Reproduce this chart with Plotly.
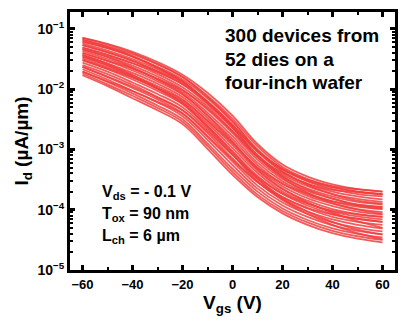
import plotly.graph_objects as go

# Gate voltage sample points (V)
vgs = [-60, -50, -40, -30, -20, -10, 0, 10, 20, 30, 40, 50, 60]

# log10 of drain current (uA/um), one list per device curve
log10_id_curves = [
    [-1.15, -1.25, -1.38, -1.55, -1.76, -2.06, -2.44, -2.91, -3.25, -3.45, -3.58, -3.66, -3.70],
    [-1.18, -1.29, -1.42, -1.59, -1.80, -2.11, -2.49, -2.95, -3.29, -3.49, -3.62, -3.70, -3.74],
    [-1.21, -1.32, -1.46, -1.63, -1.84, -2.15, -2.54, -3.00, -3.33, -3.53, -3.66, -3.74, -3.78],
    [-1.24, -1.36, -1.50, -1.67, -1.88, -2.20, -2.59, -3.04, -3.37, -3.57, -3.70, -3.78, -3.83],
    [-1.27, -1.39, -1.53, -1.71, -1.92, -2.25, -2.64, -3.09, -3.41, -3.61, -3.74, -3.82, -3.87],
    [-1.31, -1.43, -1.57, -1.75, -1.97, -2.29, -2.69, -3.13, -3.45, -3.65, -3.78, -3.87, -3.91],
    [-1.34, -1.46, -1.61, -1.79, -2.01, -2.34, -2.73, -3.17, -3.49, -3.69, -3.82, -3.91, -3.95],
    [-1.37, -1.50, -1.65, -1.83, -2.05, -2.39, -2.78, -3.22, -3.53, -3.73, -3.86, -3.95, -3.99],
    [-1.40, -1.53, -1.69, -1.87, -2.09, -2.43, -2.83, -3.26, -3.57, -3.77, -3.90, -3.99, -4.04],
    [-1.43, -1.57, -1.73, -1.91, -2.13, -2.48, -2.88, -3.31, -3.61, -3.81, -3.94, -4.03, -4.08],
    [-1.46, -1.60, -1.77, -1.95, -2.17, -2.53, -2.93, -3.35, -3.66, -3.85, -3.99, -4.07, -4.12],
    [-1.49, -1.64, -1.80, -1.99, -2.21, -2.57, -2.98, -3.39, -3.70, -3.89, -4.03, -4.11, -4.16],
    [-1.52, -1.67, -1.84, -2.03, -2.25, -2.62, -3.03, -3.44, -3.74, -3.93, -4.07, -4.15, -4.20],
    [-1.56, -1.71, -1.89, -2.08, -2.30, -2.67, -3.09, -3.49, -3.79, -3.98, -4.12, -4.20, -4.25],
    [-1.60, -1.75, -1.93, -2.13, -2.35, -2.73, -3.15, -3.54, -3.83, -4.03, -4.16, -4.25, -4.31],
    [-1.63, -1.80, -1.98, -2.17, -2.40, -2.79, -3.20, -3.60, -3.88, -4.07, -4.21, -4.30, -4.36],
    [-1.67, -1.84, -2.03, -2.22, -2.45, -2.84, -3.26, -3.65, -3.93, -4.12, -4.26, -4.35, -4.41],
    [-1.71, -1.88, -2.07, -2.27, -2.50, -2.90, -3.32, -3.70, -3.98, -4.17, -4.31, -4.40, -4.46],
    [-1.74, -1.92, -2.11, -2.31, -2.54, -2.94, -3.37, -3.75, -4.02, -4.21, -4.35, -4.44, -4.50],
    [-1.77, -1.95, -2.15, -2.35, -2.58, -2.99, -3.42, -3.79, -4.06, -4.25, -4.39, -4.48, -4.54],
    [-1.21, -1.32, -1.46, -1.65, -1.87, -2.22, -2.63, -3.10, -3.44, -3.67, -3.81, -3.93, -3.98],
    [-1.40, -1.53, -1.66, -1.83, -2.02, -2.32, -2.70, -3.12, -3.39, -3.57, -3.67, -3.71, -3.75],
    [-1.15, -1.26, -1.40, -1.58, -1.80, -2.13, -2.53, -3.02, -3.36, -3.59, -3.74, -3.85, -3.90],
    [-1.52, -1.66, -1.81, -1.98, -2.18, -2.52, -2.90, -3.30, -3.57, -3.74, -3.86, -3.92, -3.96],
    [-1.34, -1.47, -1.64, -1.84, -2.08, -2.44, -2.87, -3.33, -3.65, -3.88, -4.05, -4.19, -4.30],
    [-1.63, -1.79, -1.96, -2.14, -2.35, -2.70, -3.09, -3.46, -3.73, -3.90, -4.02, -4.08, -4.12],
    [-1.46, -1.61, -1.79, -2.00, -2.24, -2.64, -3.08, -3.53, -3.84, -4.07, -4.25, -4.39, -4.49],
    [-1.27, -1.39, -1.53, -1.70, -1.89, -2.21, -2.60, -3.03, -3.33, -3.52, -3.63, -3.70, -3.74],
    [-1.18, -1.30, -1.45, -1.64, -1.87, -2.23, -2.64, -3.12, -3.47, -3.72, -3.89, -4.00, -4.07],
    [-1.31, -1.43, -1.57, -1.72, -1.92, -2.22, -2.60, -3.02, -3.32, -3.50, -3.61, -3.66, -3.70],
    [-1.43, -1.58, -1.76, -1.98, -2.22, -2.61, -3.04, -3.48, -3.81, -4.03, -4.20, -4.33, -4.41],
    [-1.71, -1.87, -2.03, -2.21, -2.41, -2.78, -3.17, -3.54, -3.79, -3.97, -4.08, -4.15, -4.20],
]

y_tick_vals = [1e-5, 1e-4, 1e-3, 1e-2, 1e-1]
y_tick_text = ["10<sup>\u22125</sup>", "10<sup>\u22124</sup>", "10<sup>\u22123</sup>",
               "10<sup>\u22122</sup>", "10<sup>\u22121</sup>"]
y_minor_vals = [m * d for d in [1e-5, 1e-4, 1e-3, 1e-2] for m in range(2, 10)] + [0.2, 0.3, 0.4]
x_tick_vals = [-60, -40, -20, 0, 20, 40, 60]
x_tick_text = ["\u221260", "\u221240", "\u221220", "0", "20", "40", "60"]

FONT = "Liberation Sans, Arial, sans-serif"
RED = "rgba(240,62,62,0.85)"

fig = go.Figure()
for logs in log10_id_curves:
    fig.add_trace(go.Scatter(
        x=vgs, y=[10 ** v for v in logs], mode="lines",
        line=dict(color=RED, width=1.8, shape="spline", smoothing=1.1),
        showlegend=False, hoverinfo="skip"))

axis_common = dict(
    showline=True, linewidth=3, linecolor="black", mirror="allticks",
    ticks="inside", ticklen=5, tickwidth=2.5, tickcolor="black",
    showgrid=False, zeroline=False,
)

fig.update_xaxes(
    range=[-65, 65], tickvals=x_tick_vals, ticktext=x_tick_text,
    tickfont=dict(family=FONT, size=13, color="black", weight="bold"),
    minor=dict(ticks="inside", ticklen=3, tickwidth=2, tickcolor="black", dtick=10, tick0=0),
    title=dict(text="V<sub>gs</sub> (V)", font=dict(family=FONT, size=19, color="black", weight="bold"), standoff=6),
    **axis_common)
fig.update_yaxes(
    type="log", range=[-5, -0.72], tickvals=y_tick_vals, ticktext=y_tick_text,
    tickfont=dict(family=FONT, size=14, color="black", weight="bold"),
    minor=dict(ticks="inside", ticklen=3, tickwidth=1.5, tickcolor="black",
               tickmode="array", tickvals=y_minor_vals),
    title=dict(text="I<sub>d</sub> (\u00b5A/\u00b5m)", font=dict(family=FONT, size=19, color="black", weight="bold"), standoff=4),
    **axis_common)

top_lines = ["300 devices from", "52 dies on a", "four-inch wafer"]
top_y = [33, 57, 80]
for txt, yp in zip(top_lines, top_y):
    fig.add_annotation(text=txt, xref="paper", yref="paper",
                       x=(223 - 70) / 325, y=(270 - yp) / 261, xanchor="left", yanchor="middle",
                       showarrow=False, font=dict(family=FONT, size=19, color="black", weight="bold"))

bl_lines = ["V<sub>ds</sub> = - 0.1 V", "T<sub>ox</sub> = 90 nm", "L<sub>ch</sub> = 6 \u00b5m"]
bl_y = [192, 214, 236]
for txt, yp in zip(bl_lines, bl_y):
    fig.add_annotation(text=txt, xref="paper", yref="paper",
                       x=(100 - 70) / 325, y=(270 - yp) / 261, xanchor="left", yanchor="middle",
                       showarrow=False, font=dict(family=FONT, size=16, color="black", weight="bold"))

fig.update_layout(
    width=409, height=321,
    margin=dict(l=70, r=14, t=9, b=51),
    plot_bgcolor="white", paper_bgcolor="white",
    showlegend=False,
)

fig.write_html("out.html")
